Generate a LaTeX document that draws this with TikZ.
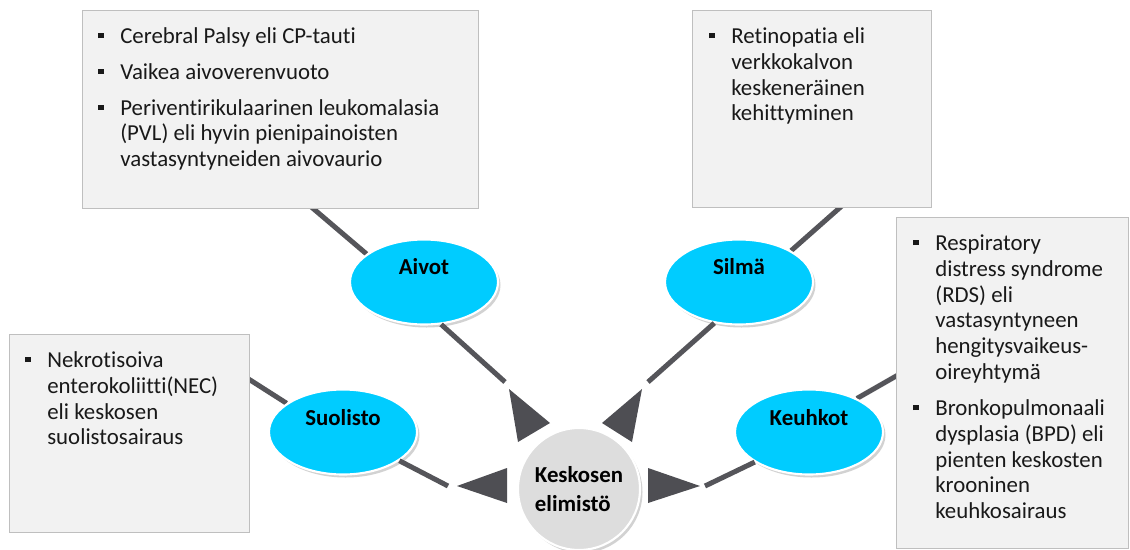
\documentclass[tikz,border=0pt]{standalone}
\usepackage{fontspec}
\setmainfont[Ligatures={NoCommon}]{Carlito}
\usetikzlibrary{positioning,calc,shapes.geometric,shadows,backgrounds}
\definecolor{organcyan}{RGB}{0,204,255}
\definecolor{linkgray}{RGB}{85,85,90}
\definecolor{boxfill}{RGB}{242,242,242}
\definecolor{boxline}{RGB}{191,191,191}
\definecolor{corefill}{RGB}{221,221,221}
\newcommand{\sq}{\makebox[12.5pt][l]{\rule[3pt]{3pt}{3pt}}}

\begin{document}
\begin{tikzpicture}[
  x=0.2mm, y=-0.2mm,
  font=\fontsize{13}{14.7}\selectfont,
  infobox/.style={draw=boxline,fill=boxfill,anchor=north west,inner sep=0pt},
  infotext/.style={anchor=north west,inner sep=0pt,text=black!90},
  organ/.style={ellipse,fill=organcyan,draw=white,line width=1.2pt,
                minimum width=29.6mm,minimum height=17mm,
                drop shadow={shadow xshift=0.5mm,shadow yshift=-0.6mm,fill=black!35}},
  organlbl/.style={font=\fontsize{13}{15}\selectfont\bfseries},
  core/.style={circle,fill=corefill,draw=white,line width=1.2pt,
               minimum size=24.4mm,align=left,
               font=\fontsize{13}{16.4}\selectfont\bfseries,
               drop shadow={shadow xshift=0.5mm,shadow yshift=-0.6mm,fill=black!35}},
  link/.style={draw=linkgray,line width=1mm},
  wedge/.style={fill=linkgray!92!black},
]
  \useasboundingbox (0,0) rectangle (1130,549);

  % info boxes
  \node[infobox,minimum width=79.2mm,minimum height=39.6mm] (aivotbox) at (82,10) {};
  \node[infobox,minimum width=47.8mm,minimum height=39.4mm] (silmabox) at (692,10) {};
  \node[infobox,minimum width=46.4mm,minimum height=66.2mm] (keuhkotbox) at (896,217) {};
  \node[infobox,minimum width=48mm,minimum height=39.6mm] (suolistobox) at (9,334) {};

  \node[infotext] (aivottxt) at ($(aivotbox.north west)+(16,15)$) {%
    \begin{tabular}{@{}l@{}l@{}}
      \sq & Cerebral Palsy eli CP-tauti\\[2mm]
      \sq & Vaikea aivoverenvuoto\\[2mm]
      \sq & Periventirikulaarinen leukomalasia\\
          & (PVL) eli hyvin pienipainoisten\\
          & vastasyntyneiden aivovaurio
    \end{tabular}};
  \node[infotext] (silmatxt) at ($(silmabox.north west)+(17,15)$) {%
    \begin{tabular}{@{}l@{}l@{}}
      \sq & Retinopatia eli\\
          & verkkokalvon\\
          & keskeneräinen\\
          & kehittyminen
    \end{tabular}};
  \node[infotext] (keuhkottxt) at ($(keuhkotbox.north west)+(17,15)$) {%
    \begin{tabular}{@{}l@{}l@{}}
      \sq & Respiratory\\
          & distress syndrome\\
          & (RDS) eli\\
          & vastasyntyneen\\
          & hengitysvaikeus-\\
          & oireyhtymä\\[2mm]
      \sq & Bronkopulmonaali\\
          & dysplasia (BPD) eli\\
          & pienten keskosten\\
          & krooninen\\
          & keuhkosairaus
    \end{tabular}};
  \node[infotext] (suolistotxt) at ($(suolistobox.north west)+(16,15)$) {%
    \begin{tabular}{@{}l@{}l@{}}
      \sq & Nekrotisoiva\\
          & enterokoliitti(NEC)\\
          & eli keskosen\\
          & suolistosairaus
    \end{tabular}};

  % organs and the core
  \node[organ] (aivot) at (424,282) {};
  \node[organ] (silma) at (739,282) {};
  \node[organ] (suolisto) at (343,432) {};
  \node[organ] (keuhkot) at (809,432) {};
  \node[organlbl] (aivotlbl) at ([yshift=3mm]aivot.center) {Aivot};
  \node[organlbl] (silmalbl) at ([yshift=3mm]silma.center) {Silmä};
  \node[organlbl] (suolistolbl) at ([yshift=2.8mm]suolisto.center) {Suolisto};
  \node[organlbl] (keuhkotlbl) at ([yshift=2.8mm]keuhkot.center) {Keuhkot};

  \node[core] (core) at (579,489) {Keskosen\\elimistö};

  \coordinate (aivotend) at (505,382);
  \coordinate (silmaend) at (648,382);
  \coordinate (suolistoend) at (448,486);
  \coordinate (keuhkotend) at (705,486);

  \begin{scope}[on background layer]
    \fill[white] (0,0) rectangle (1130,549);
    \draw[link] (aivot.154) -- ($(aivotbox.south west)+(222,-8)$);
    \draw[link] (silma.31) -- ($(silmabox.south west)+(158,-9)$);
    \draw[link] (suolisto.153) -- ($(suolistobox.north east)+(-9,40)$);
    \draw[link] (keuhkot.35) -- ($(keuhkotbox.north west)+(9,154)$);
  \end{scope}

  \draw[link] (aivot.-68) -- (aivotend);
  \draw[link] (silma.-121) -- (silmaend);
  \draw[link] (suolisto.-27) -- (suolistoend);
  \draw[link] (keuhkot.-151) -- (keuhkotend);

  % wedges next to the core
  \fill[wedge] (509,389) -- (518,442) -- (550,423) -- cycle;
  \fill[wedge] (642,389) -- (602,423) -- (632,442) -- cycle;
  \fill[wedge] (457,486) -- (507,468) -- (507,503) -- cycle;
  \fill[wedge] (700,486) -- (648,468) -- (648,503) -- cycle;
\end{tikzpicture}
\end{document}
